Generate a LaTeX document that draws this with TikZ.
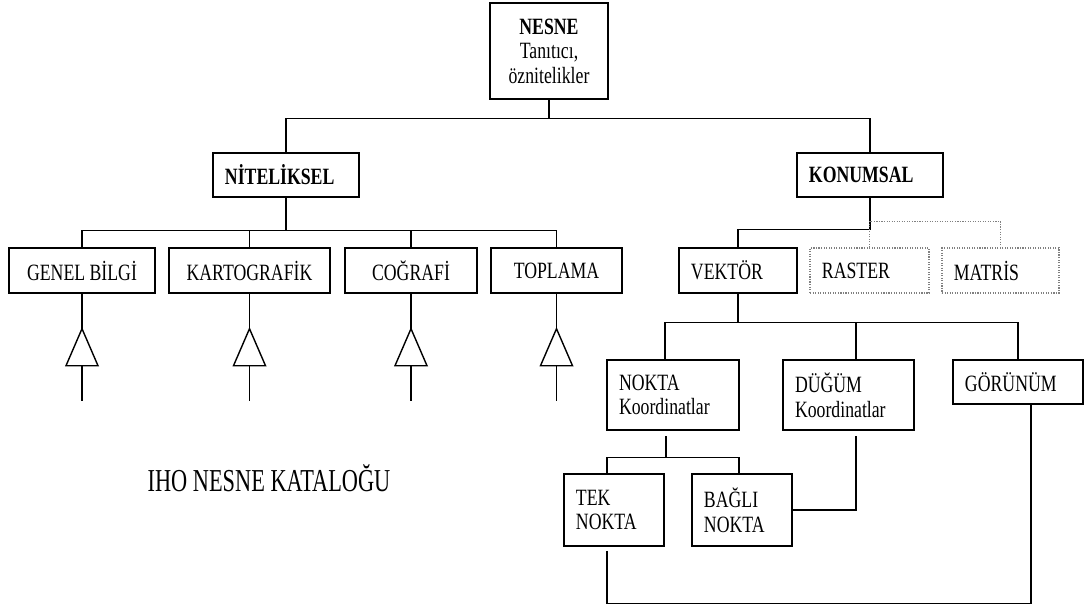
\documentclass[tikz,border=0pt]{standalone}
\usepackage{fontspec}
\setmainfont[FakeStretch=0.76]{Liberation Serif}
\newfontfamily\captionfamily[FakeStretch=0.7]{Liberation Serif}

\newcommand*{\boxfont}{\fontsize{16.6}{17.5}\selectfont}
\newcommand*{\titlefont}{\captionfamily\fontsize{22.7}{25}\selectfont}

\begin{document}
\begin{tikzpicture}
[
	x=0.025cm,
	y=-0.025cm,
	line width=1pt,
	cbox/.style={draw,align=center,inner sep=2pt,font=\boxfont},
	lbox/.style={draw,align=left,inner xsep=8.5pt,inner ysep=2pt,font=\boxfont},
	dbox/.style={lbox,draw=black!50,densely dotted,line width=0.8pt},
	dlink/.style={draw=black!50,densely dotted,line width=0.8pt}
]
	\useasboundingbox (0,0) rectangle (1086,607);

	% root
	\node[cbox,minimum width=83.9pt,minimum height=68.3pt] (nesne) at (549,51)
	  {\textbf{NESNE}\\Tanıtıcı,\\öznitelikler};

	% first level
	\node[lbox,text width=86.8pt,minimum height=31.3pt,font=\boxfont\bfseries] (nitel) at (286,175) {NİTELİKSEL};
	\node[lbox,text width=86.8pt,minimum height=31.3pt,font=\boxfont\bfseries] (konum) at (870,175) {KONUMSAL};

	% second level
	\node[cbox,minimum width=103.9pt,minimum height=32pt] (genel) at (82,270.5) {GENEL BİLGİ};
	\node[cbox,minimum width=114.5pt,minimum height=32pt] (karto) at (249.5,270.5) {KARTOGRAFİK};
	\node[cbox,minimum width=93.9pt,minimum height=32pt] (cograf) at (411,270.5) {COĞRAFİ};
	\node[cbox,minimum width=93.2pt,minimum height=32pt] (topla) at (556.5,270.5) {TOPLAMA};
	\node[lbox,text width=66.9pt,minimum height=32pt] (vektor) at (738,270.5) {VEKTÖR};
	\node[dbox,text width=67.6pt,minimum height=32pt] (raster) at (869.5,270.5) {RASTER};
	\node[dbox,text width=66.2pt,minimum height=32pt] (matris) at (1000.5,270.5) {MATRİS};

	% vector level
	\node[lbox,text width=76.8pt,minimum height=49.8pt] (nokta) at (673,395) {NOKTA\\Koordinatlar};
	\node[lbox,text width=76.1pt,minimum height=49.8pt] (dugum) at (848.5,395) {DÜĞÜM\\Koordinatlar};
	\node[lbox,text width=75.4pt,minimum height=31.3pt] (gorunum) at (1018,382) {GÖRÜNÜM};

	\node[lbox,text width=54.1pt,minimum height=51.2pt] (tek) at (614,510) {TEK\\NOKTA};
	\node[lbox,text width=54.1pt,minimum height=51.2pt] (bagli) at (742,510) {BAĞLI\\NOKTA};

	% caption
	\node[font=\titlefont] (katalog) at (269,478) {IHO NESNE KATALOĞU};

	% root connectors
	\draw (nesne.south) -- ++(0,19) coordinate (tb);
	\draw (nitel.north) |- (tb) -| (konum.north);

	% qualitative branch
	\draw (nitel.south) -- ++(0,33) coordinate (nb);
	\draw (genel.north) |- (nb) -| (topla.north);
	\draw (karto.north) |- (nb);
	\draw (cograf.north) |- (nb);

	\foreach \b in {genel,karto,cograf,topla}
	{
		\draw (\b.south) -- ++(0,35);
		\draw (\b.south) ++(0,35) -- ++(-16,37) -- ++(32,0) -- cycle;
		\draw (\b.south) ++(0,72) -- ++(0,35);
	}

	% spatial branch
	\draw (konum.south) -- ++(0,32) coordinate (kb);
	\draw (vektor.north) |- (kb);
	\draw[dlink] (raster.north) -- ++(0,-26) coordinate (db) -| (matris.north);

	\draw (vektor.south) -- ++(0,29) coordinate (vb);
	\draw ([xshift=-5.7pt]nokta.north) |- (vb) -| (gorunum.north);
	\draw ([xshift=5.3pt]dugum.north) |- (vb);

	\draw[shorten <=4pt] ([xshift=-5pt]nokta.south) -- ++(0,27) coordinate (pb);
	\draw ([xshift=-5pt]tek.north) |- (pb) -| ([xshift=-2pt]bagli.north);

	\draw[shorten <=4pt] ([xshift=5.3pt]dugum.south) |- (bagli.east);
	\draw[shorten <=3pt] ([xshift=-5pt]tek.south) -- ++(0,57) coordinate (lb)
	  -| ([xshift=9.2pt]gorunum.south);

\end{tikzpicture}
\end{document}
